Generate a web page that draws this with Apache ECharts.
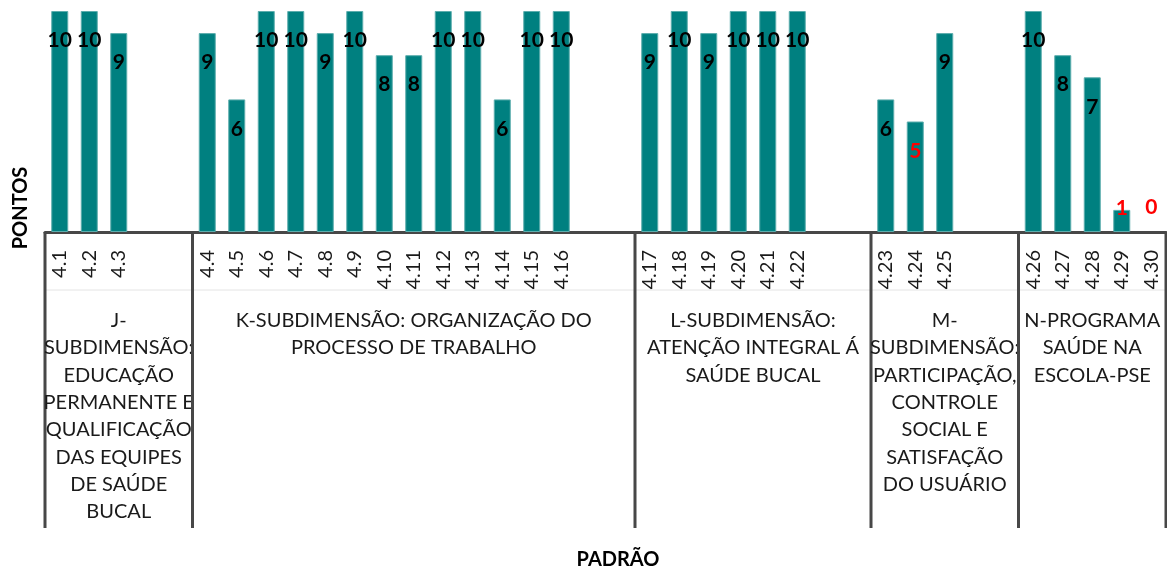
<!DOCTYPE html>
<html>
<head>
<meta charset="utf-8">
<title>Pontos por padrão</title>
<script src="https://cdn.jsdelivr.net/npm/echarts@6/dist/echarts.min.js"></script>
<style>
  html, body { margin: 0; padding: 0; background: #ffffff; }
  #chart { width: 1167px; height: 570px; }
</style>
</head>
<body>
<div id="chart"></div>
<script>
// Standards (padrões) and the points scored on each
const codes = [
  '4.1', '4.2', '4.3',
  '4.4', '4.5', '4.6', '4.7', '4.8', '4.9', '4.10', '4.11', '4.12', '4.13', '4.14', '4.15', '4.16',
  '4.17', '4.18', '4.19', '4.20', '4.21', '4.22',
  '4.23', '4.24', '4.25',
  '4.26', '4.27', '4.28', '4.29', '4.30'
];
const scores = [
  10, 10, 9,
  9, 6, 10, 10, 9, 10, 8, 8, 10, 10, 6, 10, 10,
  9, 10, 9, 10, 10, 10,
  6, 5, 9,
  10, 8, 7, 1, 0
];

// Sub-dimensions: how many standards each holds, and its label
const groupSizes = [3, 13, 6, 3, 5];
const groupNames = [
  'J-\nSUBDIMENSÃO:\nEDUCAÇÃO\nPERMANENTE E\nQUALIFICAÇÃO\nDAS EQUIPES\nDE SAÚDE\nBUCAL',
  'K-SUBDIMENSÃO: ORGANIZAÇÃO DO\nPROCESSO DE TRABALHO',
  'L-SUBDIMENSÃO:\nATENÇÃO INTEGRAL Á\nSAÚDE BUCAL',
  'M-\nSUBDIMENSÃO:\nPARTICIPAÇÃO,\nCONTROLE\nSOCIAL E\nSATISFAÇÃO\nDO USUÁRIO',
  'N-PROGRAMA\nSAÚDE NA\nESCOLA-PSE'
];

const GAP = 2;              // empty slots after each sub-dimension
const FONT = 'Lato';
const TEAL = '#008080';
const AXIS_GREY = '#474747';

// Build the slot axis: standards with blank slots between sub-dimensions
const slotLabels = [];
const slotValues = [];
const groupSpans = [];      // [firstSlot, lastSlot, groupIndex]
let k = 0;
groupSizes.forEach(function (size, g) {
  const first = slotLabels.length;
  for (let i = 0; i < size; i++, k++) {
    slotLabels.push(codes[k]);
    slotValues.push(scores[k]);
  }
  if (g < groupSizes.length - 1) {
    for (let i = 0; i < GAP; i++) {
      slotLabels.push('');
      slotValues.push(null);
    }
  }
  groupSpans.push([first, slotLabels.length - 1, g]);
});

function barItem(v) {
  if (v === null) return { value: null };
  const item = { value: v, label: { color: v <= 5 ? '#ff0000' : '#000000' } };
  if (v < 2) {
    // very short bars: value printed just above the baseline area
    item.label.position = 'top';
    item.label.distance = v === 0 ? 14 : -9;
  }
  if (v === 0) item.itemStyle = { borderWidth: 0 };
  return item;
}

const chart = echarts.init(document.getElementById('chart'), null, { renderer: 'canvas' });

const option = {
  animation: false,
  backgroundColor: '#ffffff',
  grid: { left: 45, right: 1, top: 11, bottom: 338, containLabel: false },
  xAxis: {
    type: 'category',
    data: slotLabels,
    boundaryGap: true,
    axisLine: { show: true, lineStyle: { color: AXIS_GREY, width: 3 } },
    axisTick: { show: false },
    axisLabel: {
      interval: 0,
      rotate: 90,
      margin: 18,
      fontFamily: FONT,
      fontSize: 20,
      color: '#1a1a1a'
    },
    splitLine: { show: false }
  },
  yAxis: {
    type: 'value',
    min: 0,
    max: 10,
    show: false
  },
  series: [
    {
      type: 'bar',
      data: slotValues.map(barItem),
      barWidth: 17,
      itemStyle: { color: TEAL, borderColor: '#5cadad', borderWidth: 1 },
      label: {
        show: true,
        position: 'insideTop',
        distance: 19,
        fontFamily: FONT,
        fontSize: 21,
        fontWeight: 'bold',
        color: '#000000'
      }
    },
    {
      // sub-dimension brackets and names under the standard codes
      type: 'custom',
      silent: true,
      clip: false,
      data: groupSpans,
      renderItem: function (params, api) {
        const first = api.value(0);
        const last = api.value(1);
        const g = api.value(2);
        const band = api.size([1, 0])[0];
        const base = api.coord([first, 0]);
        const x0 = base[0] - band / 2;
        const x1 = api.coord([last, 0])[0] + band / 2;
        const y0 = base[1];
        const depth = 296;
        const children = [
          {
            type: 'line',
            shape: { x1: x0, y1: y0 + 58, x2: x1, y2: y0 + 58 },
            style: { stroke: '#e4e4e4', lineWidth: 1 }
          },
          {
            type: 'line',
            shape: { x1: x0, y1: y0, x2: x0, y2: y0 + depth },
            style: { stroke: AXIS_GREY, lineWidth: 3 }
          },
          {
            type: 'text',
            x: (x0 + x1) / 2,
            y: y0 + 75,
            style: {
              text: groupNames[g],
              align: 'center',
              verticalAlign: 'top',
              fontFamily: FONT,
              fontSize: 20,
              lineHeight: 27.3,
              fill: '#1a1a1a'
            }
          }
        ];
        if (g === groupSizes.length - 1) {
          children.push({
            type: 'line',
            shape: { x1: x1, y1: y0, x2: x1, y2: y0 + depth },
            style: { stroke: AXIS_GREY, lineWidth: 3 }
          });
        }
        return { type: 'group', children: children };
      }
    }
  ],
  graphic: [
    {
      type: 'text',
      x: 21,
      y: 208,
      rotation: Math.PI / 2,
      style: {
        text: 'PONTOS',
        align: 'center',
        verticalAlign: 'middle',
        fontFamily: FONT,
        fontSize: 20,
        fontWeight: 'bold',
        fill: '#000000'
      }
    },
    {
      type: 'text',
      x: 618,
      y: 560,
      style: {
        text: 'PADRÃO',
        align: 'center',
        verticalAlign: 'middle',
        fontFamily: FONT,
        fontSize: 20,
        fontWeight: 'bold',
        fill: '#000000'
      }
    }
  ]
};

chart.setOption(option);
</script>
</body>
</html>
